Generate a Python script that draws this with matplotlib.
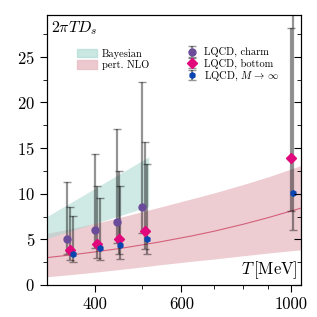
import numpy as np
import matplotlib
matplotlib.use('Agg')
import matplotlib.pyplot as plt
from matplotlib.patches import Patch
from matplotlib.ticker import FixedLocator, NullFormatter

plt.rcParams['font.family'] = 'serif'
plt.rcParams['font.serif'] = ['cmr10', 'DejaVu Serif']
plt.rcParams['mathtext.fontset'] = 'cm'
plt.rcParams['axes.formatter.use_mathtext'] = True

# Bayesian band
T_bay = [320, 360, 400, 450, 515]
bay_lo = [5.1, 5.97, 6.74, 7.6, 8.6]
bay_hi = [7.5, 9.12, 10.57, 12.19, 14.05]

# perturbative NLO band and central line
T_nlo = [320, 360, 400, 450, 500, 540, 630, 700, 800, 900, 1000, 1050]
nlo_lo = [0.9, 1.15, 1.4, 1.7, 1.98, 2.2, 2.6, 2.85, 3.2, 3.5, 3.75, 3.85]
nlo_hi = [5.66, 6.2, 6.75, 7.4, 8.05, 8.5, 9.45, 10.1, 11.0, 11.85, 12.7, 13.1]
nlo_mid = [3.0, 3.31, 3.62, 4.0, 4.4, 4.7, 5.38, 5.9, 6.65, 7.38, 8.1, 8.42]

# LQCD charm
T_charm = [352, 400, 444, 500]
D_charm = [5.0, 6.0, 6.9, 8.6]
charm_lo = [3.4, 4.0, 4.6, 5.7]
charm_hi = [11.3, 14.4, 17.1, 22.3]

# LQCD bottom
T_bottom = [356, 405, 448, 506, 1000]
D_bottom = [3.8, 4.5, 5.0, 5.95, 13.95]
bottom_lo = [2.7, 3.0, 3.4, 3.9, 8.1]
bottom_hi = [8.6, 10.9, 12.5, 15.7, 28.2]

# LQCD M -> infinity
T_inf = [361, 410, 451, 512, 1010]
D_inf = [3.4, 4.0, 4.35, 5.0, 10.1]
inf_lo = [2.5, 2.7, 2.9, 3.4, 6.0]
inf_hi = [7.6, 9.5, 10.8, 13.3, 31.0]

fig = plt.figure(figsize=(3.17, 3.17), dpi=100)
ax = fig.add_axes([0.148, 0.101, 0.802, 0.852])

ax.fill_between(T_nlo, nlo_lo, nlo_hi, color='#e8bcc4', alpha=0.75, lw=0, zorder=1)
ax.fill_between(T_bay, bay_lo, bay_hi, color='#a8d8cf', alpha=0.55, lw=0, zorder=2)
ax.plot(T_nlo, nlo_mid, color='#d4607a', lw=0.8, zorder=3)


def lqcd(T, D, lo, hi, color, marker, ms, label):
    D = np.array(D)
    yerr = [D - np.array(lo), np.array(hi) - D]
    _, caps, _ = ax.errorbar(T, D, yerr=yerr, fmt=marker, color=color, ms=ms,
                             ecolor=(0, 0, 0, 0.42), elinewidth=1.6, capsize=3,
                             capthick=1.0, zorder=4, label=label)
    for c in caps:
        c.set_color((0, 0, 0, 0.8))


lqcd(T_charm, D_charm, charm_lo, charm_hi, '#6b4c9a', 'o', 5, 'LQCD, charm')
lqcd(T_bottom, D_bottom, bottom_lo, bottom_hi, '#e0087a', 'D', 5, 'LQCD, bottom')
lqcd(T_inf, D_inf, inf_lo, inf_hi, '#0a44b0', 'h', 4, r'LQCD, $M\,\to\,\infty$')

ax.set_xscale('log')
ax.set_xlim(320, 1050)
ax.set_ylim(0, 29.6)
ax.xaxis.set_major_locator(FixedLocator([400, 600, 1000]))
ax.xaxis.set_minor_locator(FixedLocator([500, 700, 800, 900]))
ax.set_xticklabels(['400', '600', '1000'])
ax.xaxis.set_minor_formatter(NullFormatter())
ax.set_yticks([0, 5, 10, 15, 20, 25])
ax.set_yticks(np.arange(2.5, 29.6, 5), minor=True)

ax.tick_params(axis='both', which='major', labelsize=12, direction='out', length=5)
ax.tick_params(axis='both', which='minor', direction='out', length=3)
# mirrored ticks on the right point inwards
ax2 = ax.twinx()
ax2.set_ylim(ax.get_ylim())
ax2.set_yticks([0, 5, 10, 15, 20, 25])
ax2.set_yticks(np.arange(2.5, 29.6, 5), minor=True)
ax2.set_yticklabels([])
ax2.tick_params(axis='y', which='major', direction='in', length=5)
ax2.tick_params(axis='y', which='minor', direction='in', length=3)

ax.text(0.015, 0.985, r'$2\pi T D_s$', transform=ax.transAxes, fontsize=11.5,
        ha='left', va='top')
ax.text(0.985, 0.015, r'$T\,$[MeV]', transform=ax.transAxes, fontsize=12,
        ha='right', va='bottom')

leg1 = ax.legend(handles=[Patch(color='#a8d8cf', alpha=0.6, label='Bayesian'),
                          Patch(color='#e8bcc4', alpha=0.8, label='pert. NLO')],
                 loc='upper left', bbox_to_anchor=(0.08, 0.91), fontsize=7.5,
                 frameon=False, handlelength=2.0, handleheight=0.9,
                 handletextpad=0.4, labelspacing=0.15)
ax.add_artist(leg1)
ax.legend(loc='upper left', bbox_to_anchor=(0.51, 0.915), fontsize=7.5,
          frameon=False, handletextpad=0.5, labelspacing=0.1, handlelength=1.2)

fig.savefig('out.png', dpi=100)
